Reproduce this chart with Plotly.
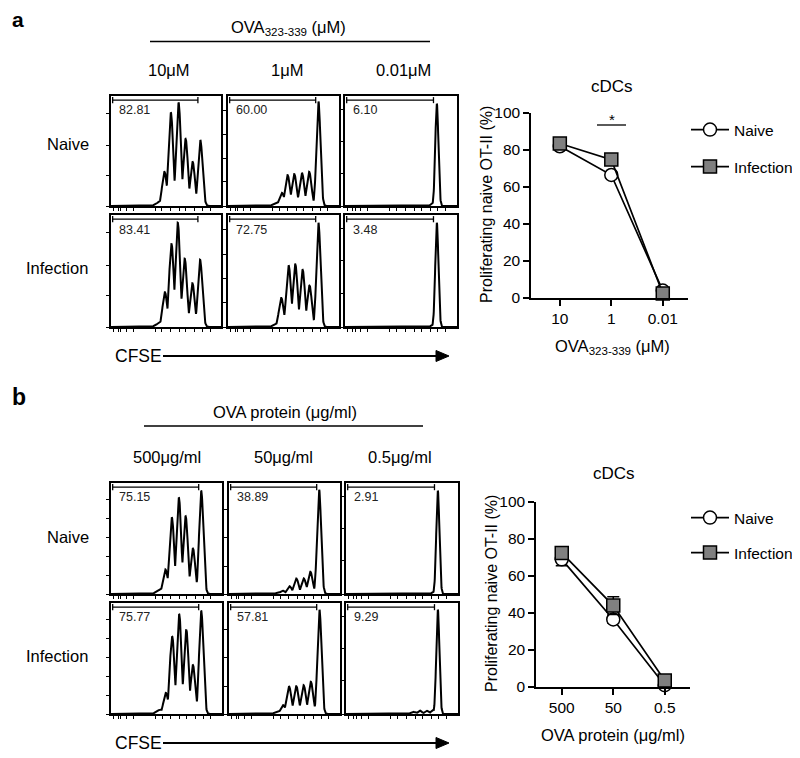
import numpy as np
import plotly.graph_objects as go

# the page adds an 8px body margin, so the figure is sized to fill the rest
OFF = 8
W, H = 800 - OFF, 758 - OFF
FONT = "Liberation Sans, Arial, Helvetica, sans-serif"

# ---------------- summary line charts ----------------
doses_a = ["10", "1", "0.01"]
naive_a = [82.0, 66.5, 4.0]
infection_a = [83.5, 74.8, 2.4]
naive_a_err = [1.0, 1.5, 0.5]
infection_a_err = [1.0, 1.5, 0.5]

doses_b = ["500", "50", "0.5"]
naive_b = [69.0, 36.5, 1.0]
infection_b = [72.5, 44.0, 3.5]
naive_b_err = [3.5, 2.0, 0.5]
infection_b_err = [1.5, 4.8, 0.8]

# ---------------- histogram panels ----------------
rows = ["Naive", "Infection"]
cols_a = ["10μM", "1μM", "0.01μM"]
cols_b = ["500μg/ml", "50μg/ml", "0.5μg/ml"]
gate_a = [["82.81", "60.00", "6.10"], ["83.41", "72.75", "3.48"]]
gate_b = [["75.15", "38.89", "2.91"], ["75.77", "57.81", "9.29"]]

# peak descriptions: centres (fraction of CFSE axis),
# heights (fraction of panel height) and widths
a_naive_10_c = [0.45, 0.486, 0.544, 0.614, 0.678, 0.742, 0.812]
a_naive_10_h = [0.04, 0.31, 0.85, 0.94, 0.61, 0.40, 0.60]
a_naive_10_w = [0.035, 0.021, 0.021, 0.021, 0.021, 0.021, 0.020]
a_naive_1_c = [0.45, 0.485, 0.537, 0.597, 0.666, 0.731, 0.815]
a_naive_1_h = [0.03, 0.12, 0.28, 0.29, 0.30, 0.31, 0.95]
a_naive_1_w = [0.035, 0.021, 0.021, 0.021, 0.021, 0.021, 0.018]
a_naive_001_c = [0.79, 0.82]
a_naive_001_h = [0.03, 0.93]
a_naive_001_w = [0.02, 0.014]
a_inf_10_c = [0.45, 0.49, 0.55, 0.607, 0.67, 0.74, 0.81]
a_inf_10_h = [0.04, 0.31, 0.74, 0.93, 0.61, 0.39, 0.60]
a_inf_10_w = [0.035, 0.021, 0.021, 0.021, 0.021, 0.021, 0.020]
a_inf_1_c = [0.45, 0.48, 0.546, 0.606, 0.672, 0.734, 0.815]
a_inf_1_h = [0.03, 0.26, 0.55, 0.56, 0.51, 0.37, 0.93]
a_inf_1_w = [0.035, 0.021, 0.021, 0.021, 0.021, 0.021, 0.018]
a_inf_001_c = [0.79, 0.82]
a_inf_001_h = [0.02, 0.93]
a_inf_001_w = [0.02, 0.014]

b_naive_500_c = [0.45, 0.49, 0.548, 0.611, 0.672, 0.738, 0.813]
b_naive_500_h = [0.04, 0.22, 0.69, 0.87, 0.70, 0.41, 0.93]
b_naive_500_w = [0.035, 0.021, 0.021, 0.021, 0.021, 0.021, 0.019]
b_naive_50_c = [0.45, 0.485, 0.545, 0.606, 0.673, 0.733, 0.812]
b_naive_50_h = [0.01, 0.03, 0.07, 0.14, 0.14, 0.20, 0.94]
b_naive_50_w = [0.035, 0.021, 0.021, 0.021, 0.021, 0.021, 0.018]
b_naive_05_c = [0.79, 0.82]
b_naive_05_h = [0.02, 0.93]
b_naive_05_w = [0.02, 0.014]
b_inf_500_c = [0.45, 0.494, 0.551, 0.614, 0.678, 0.738, 0.813]
b_inf_500_h = [0.04, 0.19, 0.70, 0.90, 0.76, 0.44, 0.93]
b_inf_500_w = [0.035, 0.021, 0.021, 0.021, 0.021, 0.021, 0.019]
b_inf_50_c = [0.45, 0.487, 0.54, 0.606, 0.672, 0.737, 0.815]
b_inf_50_h = [0.02, 0.08, 0.25, 0.25, 0.26, 0.29, 0.94]
b_inf_50_w = [0.035, 0.021, 0.021, 0.021, 0.021, 0.021, 0.018]
b_inf_05_c = [0.60, 0.66, 0.72, 0.78, 0.82]
b_inf_05_h = [0.02, 0.03, 0.03, 0.04, 0.94]
b_inf_05_w = [0.02, 0.018, 0.018, 0.02, 0.014]

hist_a = [
    [(a_naive_10_c, a_naive_10_h, a_naive_10_w),
     (a_naive_1_c, a_naive_1_h, a_naive_1_w),
     (a_naive_001_c, a_naive_001_h, a_naive_001_w)],
    [(a_inf_10_c, a_inf_10_h, a_inf_10_w),
     (a_inf_1_c, a_inf_1_h, a_inf_1_w),
     (a_inf_001_c, a_inf_001_h, a_inf_001_w)],
]
hist_b = [
    [(b_naive_500_c, b_naive_500_h, b_naive_500_w),
     (b_naive_50_c, b_naive_50_h, b_naive_50_w),
     (b_naive_05_c, b_naive_05_h, b_naive_05_w)],
    [(b_inf_500_c, b_inf_500_h, b_inf_500_w),
     (b_inf_50_c, b_inf_50_h, b_inf_50_w),
     (b_inf_05_c, b_inf_05_h, b_inf_05_w)],
]

# ---------------- layout helpers (page pixel -> paper fraction) ----------------
def px(x):
    return (x - OFF) / W

def py(y):
    return 1 - (y - OFF) / H

grid = np.linspace(0, 1, 700)

def curve(c, h, w):
    comps = [hi * np.exp(-0.5 * ((grid - ci) / wi) ** 2) for ci, hi, wi in zip(c, h, w)]
    return np.max(np.vstack(comps), axis=0)

fig = go.Figure()
layout = dict(
    width=W, height=H,
    margin=dict(l=0, r=0, t=0, b=0, pad=0, autoexpand=False),
    plot_bgcolor="white", paper_bgcolor="white",
    font=dict(family=FONT, color="black"),
    showlegend=True,
)
annotations = []
shapes = []

x_ticks_hist = [0.02, 0.07, 0.09, 0.14, 0.20, 0.40, 0.46, 0.54, 0.62, 0.68, 0.76, 0.83, 0.90]
y_ticks_a = [[0, .28, .55, .84], [0, .22, .43, .65, .87], [0, .30, .59, .88]]
y_ticks_b = [[0, .17, .34, .51, .68, .85], [0, .25, .51, .76], [0, .30, .59, .88]]

panels = [
    dict(hist=hist_a, gates=gate_a, cols=cols_a, yt=y_ticks_a,
         colx=[(111, 221), (228, 339), (345, 457)],
         rowy=[(96, 206), (215, 327)]),
    dict(hist=hist_b, gates=gate_b, cols=cols_b, yt=y_ticks_b,
         colx=[(111, 222), (229, 340), (346, 458)],
         rowy=[(483, 594), (603, 714)]),
]

ax = 0
for p in panels:
    for r in range(2):
        for c in range(3):
            ax += 1
            cc, hh, ww = p["hist"][r][c]
            x0, x1 = p["colx"][c]
            y0, y1 = p["rowy"][r]
            sfx = "" if ax == 1 else str(ax)
            fig.add_trace(go.Scatter(
                x=grid, y=curve(cc, hh, ww), mode="lines",
                line=dict(color="black", width=2),
                xaxis="x" + sfx, yaxis="y" + sfx, showlegend=False,
                hoverinfo="skip", cliponaxis=True))
            layout["xaxis" + sfx] = dict(
                domain=[px(x0), px(x1)], anchor="y" + sfx, range=[0, 1],
                showline=True, mirror=True, linecolor="black", linewidth=1.7,
                ticks="outside", ticklen=3, tickwidth=1, tickcolor="black",
                tickvals=x_ticks_hist, showticklabels=False,
                showgrid=False, zeroline=False)
            layout["yaxis" + sfx] = dict(
                domain=[py(y1), py(y0)], anchor="x" + sfx, range=[0, 1],
                showline=True, mirror=True, linecolor="black", linewidth=1.7,
                ticks="outside", ticklen=3, tickwidth=1, tickcolor="black",
                tickvals=p["yt"][c], showticklabels=False,
                showgrid=False, zeroline=False)
            xr, yr = "x" + sfx, "y" + sfx
            # gate bar
            shapes.append(dict(type="line", xref=xr, yref=yr, x0=0.015, x1=0.79,
                               y0=0.963, y1=0.963, line=dict(color="black", width=1.3)))
            for gx in (0.015, 0.79):
                shapes.append(dict(type="line", xref=xr, yref=yr, x0=gx, x1=gx,
                                   y0=0.935, y1=0.99, line=dict(color="black", width=1.3)))
            annotations.append(dict(x=0.05, y=0.87, xref=xr, yref=yr,
                                    text=p["gates"][r][c], showarrow=False,
                                    xanchor="left", yanchor="middle",
                                    font=dict(size=12.5, color="#222")))

# ---------------- line charts ----------------
def add_line_chart(sfx, cats, naive, inf, nerr, ierr, xdom, ydom, xr, leg1, leg2):
    fig.add_trace(go.Scatter(
        x=cats, y=naive, mode="lines+markers", name="Naive",
        line=dict(color="black", width=1.7),
        marker=dict(symbol="circle", size=13, color="white",
                    line=dict(color="black", width=1.5)),
        error_y=dict(type="data", array=nerr, color="black", thickness=1.5, width=6),
        xaxis="x" + sfx, yaxis="y" + sfx, legend=leg1, cliponaxis=False))
    fig.add_trace(go.Scatter(
        x=cats, y=inf, mode="lines+markers", name="Infection",
        line=dict(color="black", width=1.7),
        marker=dict(symbol="square", size=13, color="#808080",
                    line=dict(color="black", width=1.5)),
        error_y=dict(type="data", array=ierr, color="black", thickness=1.5, width=6),
        xaxis="x" + sfx, yaxis="y" + sfx, legend=leg2, cliponaxis=False))
    layout["xaxis" + sfx] = dict(
        domain=xdom, anchor="y" + sfx, type="category", range=xr,
        showline=True, linecolor="black", linewidth=1.5,
        ticks="outside", ticklen=6, tickwidth=1.5, tickcolor="black",
        tickfont=dict(size=15.5), showgrid=False, zeroline=False)
    layout["yaxis" + sfx] = dict(
        domain=ydom, anchor="x" + sfx, range=[0, 100], dtick=20,
        showline=True, linecolor="black", linewidth=1.5,
        ticks="outside", ticklen=6, tickwidth=1.5, tickcolor="black",
        tickfont=dict(size=15.5), showgrid=False, zeroline=False)

add_line_chart("13", doses_a, naive_a, infection_a, naive_a_err, infection_a_err,
               [px(531), px(688)], [py(298), py(113)], [-0.56, 2.49],
               "legend", "legend2")
add_line_chart("14", doses_b, naive_b, infection_b, naive_b_err, infection_b_err,
               [px(536), px(690)], [py(687), py(502)], [-0.50, 2.49],
               "legend3", "legend4")

def leg(yc):
    return dict(x=px(686), y=py(yc), xanchor="left", yanchor="middle",
                bgcolor="rgba(0,0,0,0)", font=dict(size=15.5, family=FONT),
                itemwidth=38)

layout["legend"] = leg(130)
layout["legend2"] = leg(167)
layout["legend3"] = leg(518)
layout["legend4"] = leg(553)

# ---------------- texts ----------------
def txt(x, y, s, size, **kw):
    d = dict(x=px(x), y=py(y), xref="paper", yref="paper", text=s,
             showarrow=False, xanchor="center", yanchor="middle",
             font=dict(size=size, family=FONT, color="black"))
    d.update(kw)
    annotations.append(d)

txt(18, 19, "<b>a</b>", 21)
txt(19, 397, "<b>b</b>", 23)
txt(288, 28, "OVA<sub>323-339</sub> (μM)", 16.5)
txt(285, 412, "OVA protein (μg/ml)", 16.5)
for x, s in zip([169, 287, 403], cols_a):
    txt(x, 70, s, 16.5)
for x, s in zip([167, 283, 400], cols_b):
    txt(x, 457, s, 16.5)
txt(68, 144, rows[0], 16.5)
txt(57, 268, rows[1], 16.5)
txt(68, 537, rows[0], 16.5)
txt(57, 656, rows[1], 16.5)
txt(113, 356, "CFSE", 17.5, xanchor="left")
txt(113, 743, "CFSE", 17.5, xanchor="left")
txt(612, 87, "cDCs", 17)
txt(614, 474, "cDCs", 17)
txt(612, 347, "OVA<sub>323-339</sub> (μM)", 16.5)
txt(613, 735, "OVA protein (μg/ml)", 16.5)
txt(487, 205, "Proliferating naive OT-II (%)", 16, textangle=-90)
txt(491, 594, "Proliferating naive OT-II (%)", 16, textangle=-90)
txt(612, 119, "*", 15)

# header lines, significance bar, CFSE arrows
shapes.append(dict(type="line", xref="paper", yref="paper", x0=px(150), x1=px(430),
                   y0=py(41.5), y1=py(41.5), line=dict(color="black", width=1.3)))
shapes.append(dict(type="line", xref="paper", yref="paper", x0=px(144), x1=px(423),
                   y0=py(426), y1=py(426), line=dict(color="black", width=1.3)))
shapes.append(dict(type="line", xref="paper", yref="paper", x0=px(597), x1=px(626),
                   y0=py(125), y1=py(125), line=dict(color="black", width=1.3)))
for yy in (356, 743):
    shapes.append(dict(type="line", xref="paper", yref="paper", x0=px(163), x1=px(438),
                       y0=py(yy), y1=py(yy), line=dict(color="black", width=2)))
    shapes.append(dict(type="path", xref="paper", yref="paper",
                       path=f"M {px(436)} {py(yy-5.5)} L {px(449)} {py(yy)} L {px(436)} {py(yy+5.5)} Z",
                       fillcolor="black", line=dict(color="black", width=1)))

layout["annotations"] = annotations
layout["shapes"] = shapes
fig.update_layout(**layout)
fig.write_html("out.html")
